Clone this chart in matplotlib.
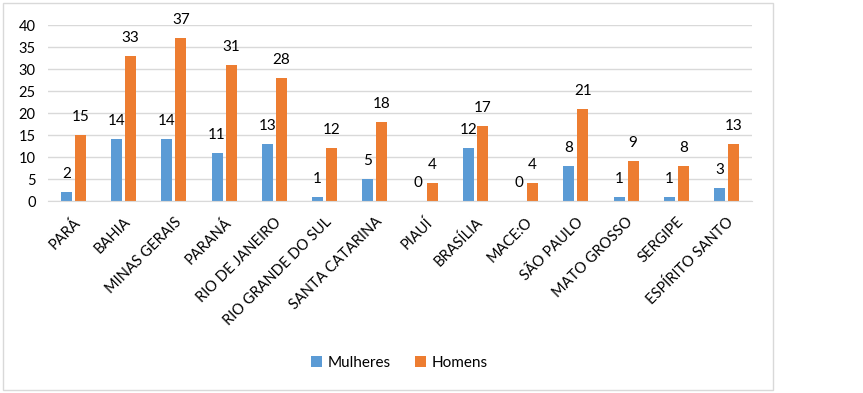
import numpy as np
import matplotlib.pyplot as plt
from matplotlib.patches import Rectangle

estados = ["PARÁ", "BAHIA", "MINAS GERAIS", "PARANÁ", "RIO DE JANEIRO",
           "RIO GRANDE DO SUL", "SANTA CATARINA", "PIAUÍ", "BRASÍLIA",
           "MACE:O", "SÃO PAULO", "MATO GROSSO", "SERGIPE", "ESPÍRITO SANTO"]
mulheres = [2, 14, 14, 11, 13, 1, 5, 0, 12, 0, 8, 1, 1, 3]
homens = [15, 33, 37, 31, 28, 12, 18, 4, 17, 4, 21, 9, 8, 13]

plt.rcParams['font.family'] = ['Lato', 'DejaVu Sans']
azul = "#5B9BD5"
laranja = "#ED7D31"
cinza = "#D9D9D9"

fig = plt.figure(figsize=(8.63, 3.93), dpi=100)
ax = fig.add_axes([0.056, 0.4885, 0.815, 0.4475])

x = np.arange(len(estados))
w = 0.22
b1 = ax.bar(x - 0.14, mulheres, w, color=azul, label="Mulheres")
b2 = ax.bar(x + 0.14, homens, w, color=laranja, label="Homens")

# rótulos de dados acima das barras
for bars, vals in [(b1, mulheres), (b2, homens)]:
    for rect, v in zip(bars, vals):
        ax.annotate(str(v), (rect.get_x() + rect.get_width() / 2, v),
                    xytext=(0, 8), textcoords="offset points",
                    ha="center", va="bottom", fontsize=11, color="#000000")

ax.set_ylim(0, 40)
ax.set_xlim(-0.5, len(estados) - 0.5)
ax.set_yticks(range(0, 41, 5))
ax.yaxis.grid(True, color=cinza, linewidth=1)
ax.set_axisbelow(True)
for s in ["top", "right", "left"]:
    ax.spines[s].set_visible(False)
ax.spines["bottom"].set_color(cinza)
ax.tick_params(axis="y", length=0, pad=9, labelsize=10.5)
ax.tick_params(axis="x", length=0, pad=10, labelsize=10.5)
ax.set_xticks(x)
ax.set_xticklabels(estados, rotation=45, ha="right", rotation_mode="anchor")

ax.legend(loc="center", bbox_to_anchor=(0.463, 0.077), bbox_transform=fig.transFigure,
          ncol=2, frameon=False, fontsize=11, handlelength=0.7, handleheight=0.7,
          handletextpad=0.4, columnspacing=1.6)

fig.patches.append(Rectangle((3 / 863, 3 / 393), 770 / 863, 387 / 393,
                             transform=fig.transFigure, fill=False,
                             edgecolor=cinza, linewidth=1))

fig.savefig("out.png", dpi=100)
